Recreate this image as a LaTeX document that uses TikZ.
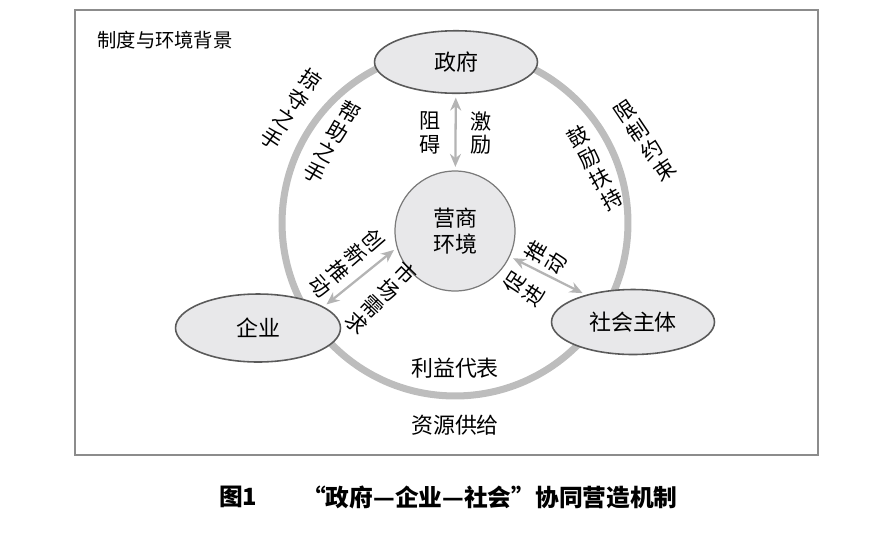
\documentclass[tikz,border=0pt]{standalone}
\usepackage{fontspec}
\setmainfont{Noto Sans CJK SC}
\usetikzlibrary{arrows.meta,shapes.geometric,positioning}
\definecolor{ringgray}{HTML}{BDBDBD}
\definecolor{nodefill}{HTML}{E8E8EA}
\definecolor{nodeline}{HTML}{5A5A5A}
\definecolor{arrowgray}{HTML}{B4B4B4}
\definecolor{framegray}{HTML}{8C8C8C}
\tikzset{
    actor/.style={draw=nodeline, fill=nodefill, ellipse, line width=0.9pt, minimum width=3.26cm, minimum height=1.25cm, font=\fontsize{12.5}{14}\selectfont},
    core/.style={draw=nodeline!80, fill=nodefill, circle, line width=0.7pt, minimum size=2.4cm, align=center, font=\fontsize{12.5}{15}\selectfont},
    ring/.style={ringgray, line width=4pt},
    link/.style={{Stealth[length=2.6mm, width=2.2mm]}-{Stealth[length=2.6mm, width=2.2mm]}, arrowgray, line width=1.3pt, shorten >=2pt, shorten <=2pt},
    tag/.style={align=center, inner sep=0pt, font=\fontsize{12}{13.4}\selectfont}
}
\begin{document}
\begin{tikzpicture}[x=0.02cm, y=-0.02cm]
    \useasboundingbox (0,0) rectangle (889,535);
    \draw[framegray, line width=0.6pt] (75,10) rectangle (818,455);
    \node[tag, anchor=west, font=\fontsize{11}{12}\selectfont] (bg) at (97,40) {制度与环境背景};

    % outer ring of the three actors
    \draw[ring] (455,223) circle [radius=3.46cm];

    \node[actor] (gov) at (456,62) {政府};
    \node[actor, minimum width=3.3cm, minimum height=1.36cm] (firm) at (258,328) {企业};
    \node[actor, minimum height=1.3cm] (soc) at (633,322) {社会主体};
    \node[core] (env) at (455,231) {营商\\环境};

    \draw[link] (gov) -- (env);
    \draw[link] (env.196) -- (firm.18);
    \draw[link] (env.-25) -- (soc.150);

    \node[tag] (hinder) at (430,133) {阻\\碍};
    \node[tag] (spur) at (481,133) {激\\励};
    \node[tag, rotate=-34] (grab) at (291,109) {掠\\夺\\之\\手};
    \node[tag, rotate=-30] (help) at (332,142) {帮\\助\\之\\手};
    \node[tag, rotate=34] (limit) at (645,141) {限\\制\\约\\束};
    \node[tag, rotate=28] (support) at (595,168) {鼓\\励\\扶\\持};
    \node[tag, rotate=-49] (innov) at (347,263) {创\\新\\推\\动};
    \node[tag, rotate=-44] (demand) at (381,298) {市\\场\\需\\求};
    \node[tag, rotate=60] (push) at (546,257) {推\\动};
    \node[tag, rotate=57] (boost) at (524,289) {促\\进};
    \node[tag, font=\fontsize{12.5}{14}\selectfont] (interest) at (455,368) {利益代表};
    \node[tag, font=\fontsize{12.5}{14}\selectfont] (supply) at (455,425) {资源供给};

    \node[anchor=west, font=\bfseries\fontsize{13.5}{15}\selectfont] (fignum) at (213,497) {图1};
    \node[anchor=west, font=\bfseries\fontsize{13.5}{15}\selectfont] (figtitle) at (296,497) {“政府—企业—社会”协同营造机制};
\end{tikzpicture}
\end{document}
